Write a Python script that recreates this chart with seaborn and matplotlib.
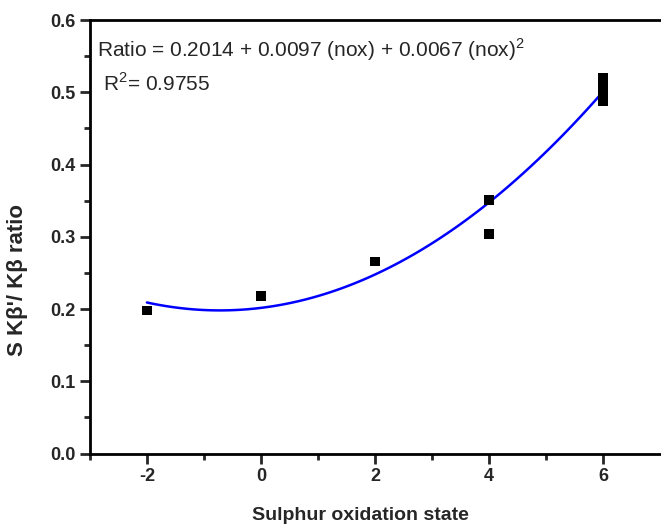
import numpy as np
import pandas as pd
import seaborn as sns
import matplotlib.pyplot as plt

# measured points
nox = [-2, 0, 2, 4, 4, 6, 6, 6, 6, 6]
ratio = [0.198, 0.218, 0.266, 0.351, 0.304, 0.488, 0.497, 0.505, 0.513, 0.520]

x_ticks = [-2, 0, 2, 4, 6]
y_ticks = [0.0, 0.1, 0.2, 0.3, 0.4, 0.5, 0.6]

eq_text = "Ratio = 0.2014 + 0.0097 (nox) + 0.0067 (nox)$^2$"
r2_text = "R$^2$= 0.9755"

df = pd.DataFrame({"nox": nox, "ratio": ratio})

sns.set_style("ticks")
plt.rcParams["font.family"] = ["Liberation Sans", "DejaVu Sans"]
plt.rcParams["mathtext.fontset"] = "custom"
plt.rcParams["mathtext.rm"] = "Liberation Sans"

fig = plt.figure(figsize=(6.61, 5.29), dpi=100)
# the original is cropped on the right, so the axes run off the edge
ax = fig.add_axes([0.136, 0.1425, 0.88, 0.8195])

sns.regplot(x="nox", y="ratio", data=df, order=2, ci=None, scatter=False,
            line_kws={"color": "#0000ff", "linewidth": 1.8}, ax=ax)
sns.scatterplot(x="nox", y="ratio", data=df, marker="s", s=45, color="black",
                edgecolor="none", ax=ax, zorder=3)

ax.set_xlim(-3, 7.2)
ax.set_ylim(0, 0.6)
ax.set_xticks(x_ticks)
ax.set_xticklabels([str(v) for v in x_ticks])
ax.set_xticks([-3, -1, 1, 3, 5], minor=True)
ax.set_yticks(y_ticks)
ax.set_yticklabels([f"{v:.1f}" for v in y_ticks])
ax.set_yticks(np.arange(0.05, 0.6, 0.1), minor=True)

for s in ax.spines.values():
    s.set_linewidth(2)
    s.set_color("black")
ax.tick_params(which="major", direction="out", length=7, width=2, labelsize=13)
ax.tick_params(which="minor", direction="out", length=4, width=2)
for lab in ax.get_xticklabels() + ax.get_yticklabels():
    lab.set_fontweight("bold")

ax.set_xlabel("Sulphur oxidation state", fontsize=14, fontweight="bold")
ax.xaxis.set_label_coords(0.465, -0.122)
ax.set_ylabel("S K\u03b2'/ K\u03b2 ratio", fontsize=16, fontweight="bold")
ax.yaxis.set_label_coords(-0.106, 0.40)

ax.text(0.012, 0.962, eq_text, transform=ax.transAxes, fontsize=15, va="top")
ax.text(0.022, 0.88, r2_text, transform=ax.transAxes, fontsize=15, va="top")

fig.savefig("out.png", dpi=100)
